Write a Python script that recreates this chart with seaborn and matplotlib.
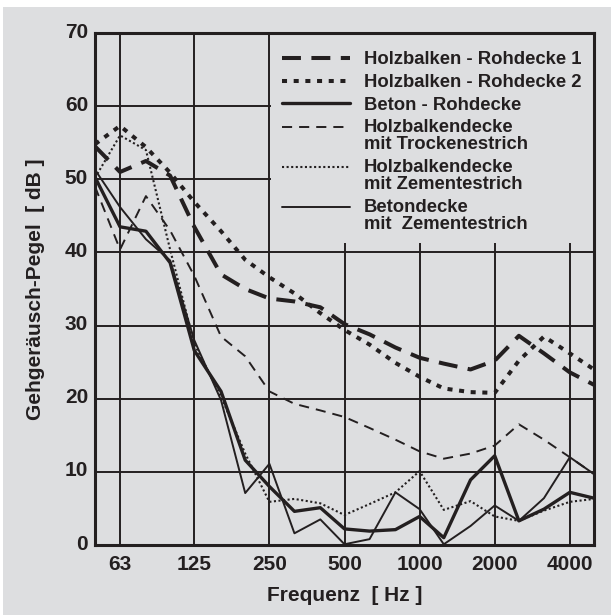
import numpy as np
import matplotlib
matplotlib.use("Agg")
import matplotlib.pyplot as plt
import seaborn as sns
from matplotlib.patches import Rectangle
from matplotlib.transforms import ScaledTranslation
from matplotlib.legend_handler import HandlerLine2D

# ---------------- data ----------------
freqs = [50, 63, 80, 100, 125, 160, 200, 250, 315, 400, 500, 630, 800,
         1000, 1250, 1600, 2000, 2500, 3150, 4000, 5000]

holzbalken_roh_1 = [54.5, 51.0, 52.5, 50.5, 43.5, 37.0, 35.0, 33.7, 33.3, 32.5,
                    30.2, 28.8, 27.0, 25.6, 24.8, 24.0, 25.2, 28.6, 26.2, 23.6, 21.9]
holzbalken_roh_2 = [54.8, 57.3, 54.4, 50.9, 46.9, 42.9, 39.0, 36.6, 34.4, 31.7,
                    29.4, 27.4, 24.9, 23.0, 21.4, 20.9, 20.8, 25.2, 28.5, 26.2, 24.0]
beton_roh = [50.3, 43.5, 42.9, 38.6, 26.6, 21.0, 11.6, 8.0, 4.6, 5.1,
             2.2, 1.9, 2.1, 3.9, 1.0, 8.9, 12.2, 3.3, 4.9, 7.2, 6.4]
holz_trocken = [49.0, 40.4, 47.7, 43.0, 36.8, 28.5, 25.8, 21.0, 19.3, 18.4,
                17.5, 16.0, 14.4, 12.8, 11.8, 12.5, 13.6, 16.5, 14.4, 12.0, 9.7]
holz_zement = [50.2, 56.0, 54.0, 40.4, 27.5, 20.3, 12.5, 5.9, 6.3, 5.7,
               4.1, 5.6, 7.2, 10.1, 4.8, 6.0, 3.9, 3.3, 4.7, 5.9, 6.3]
beton_zement = [51.3, 46.2, 41.8, 38.9, 28.0, 19.8, 7.1, 11.1, 1.6, 3.5,
                0.1, 0.8, 7.2, 4.9, 0.1, 2.6, 5.4, 3.3, 6.4, 12.0, 9.7]

labels = ["Holzbalken - Rohdecke 1",
          "Holzbalken - Rohdecke 2",
          "Beton - Rohdecke",
          "Holzbalkendecke\nmit Trockenestrich",
          "Holzbalkendecke\nmit Zementestrich",
          "Betondecke\nmit  Zementestrich"]

xticks = [63, 125, 250, 500, 1000, 2000, 4000]
xticklabels = ["63", "125", "250", "500", "1000", "2000", "4000"]
yticks = [0, 10, 20, 30, 40, 50, 60, 70]

# ---------------- style ----------------
sns.set_style("white")
plt.rcParams["font.family"] = ["Liberation Sans", "DejaVu Sans"]
plt.rcParams["font.weight"] = "bold"

BG = "#dddee0"
INK = "#231f20"

fig = plt.figure(figsize=(6.11, 6.15), dpi=100, facecolor="white")
fig.patches.append(Rectangle((3 / 611, 0), 1, 608 / 615, transform=fig.transFigure,
                             facecolor=BG, edgecolor="none", zorder=-10))
ax = fig.add_axes([95 / 611, 1 - 545 / 615, 499 / 611, 512 / 615])
ax.set_facecolor(BG)

series = [
    (holzbalken_roh_1, 2.9, (0, (4.7, 2.6))),
    (holzbalken_roh_2, 2.9, (0, (1.25, 1.65))),
    (beton_roh, 2.4, "-"),
    (holz_trocken, 1.4, (0, (5.2, 3.6))),
    (holz_zement, 1.5, (0, (1.0, 1.2))),
    (beton_zement, 1.4, "-"),
]
for (vals, lw, ls), lab in zip(series, labels):
    sns.lineplot(x=freqs, y=vals, ax=ax, color=INK, linewidth=lw,
                 linestyle=ls, label=lab, estimator=None, legend=False)

ax.set_xscale("log")
ax.set_xlim(50, 5000)
ax.set_ylim(0, 70)
ax.set_xticks(xticks)
ax.set_xticklabels(xticklabels)
ax.xaxis.set_minor_locator(matplotlib.ticker.NullLocator())
ax.set_yticks(yticks)
ax.tick_params(length=0, labelsize=15, labelcolor=INK)
ax.tick_params(axis="x", pad=7)
ax.tick_params(axis="y", pad=5)
for t in ax.get_yticklabels():
    t.set_transform(t.get_transform() + ScaledTranslation(0, 0.03, fig.dpi_scale_trans))

ax.set_axisbelow(True)
ax.grid(True, which="major", color=INK, linewidth=1.4)
for s in ax.spines.values():
    s.set_color(INK)
    s.set_linewidth(2.2)
    s.set_visible(True)

# mask behind the legend (hides grid)
ax.add_patch(Rectangle((0.3527, 0.590), 1 - 0.3527, 0.41, transform=ax.transAxes,
                       facecolor=BG, edgecolor="none", zorder=1))

ax.set_xlabel("Frequenz  [ Hz ]", fontsize=15, fontweight="bold", color=INK, labelpad=9)
ax.set_ylabel("Gehgeräusch-Pegel  [ dB ]", fontsize=15, fontweight="bold", color=INK,
              labelpad=14)


class FirstLineHandler(HandlerLine2D):
    def __init__(self, shift=0.0, **kw):
        super().__init__(**kw)
        self._shift = shift

    def create_artists(self, legend, orig_handle, xdescent, ydescent, width,
                       height, fontsize, trans):
        arts = super().create_artists(legend, orig_handle, xdescent, ydescent,
                                      width, height, fontsize, trans)
        for a in arts:
            a.set_ydata(np.asarray(a.get_ydata(), dtype=float) + self._shift)
        return arts


handles, labs = ax.get_legend_handles_labels()
hmap = {h: FirstLineHandler(shift=6.5) for h, l in zip(handles, labs) if "\n" in l}
leg = ax.legend(handles, labs, loc="upper left", bbox_to_anchor=(0.374, 0.964),
                borderpad=0, borderaxespad=0, frameon=False,
                handlelength=3.7, handletextpad=0.76, labelspacing=0.3,
                prop={"size": 13.3, "weight": "bold"}, labelcolor=INK,
                handler_map=hmap)
for t in leg.get_texts():
    t.set_linespacing(1.03)

fig.savefig("out.png", dpi=100, facecolor=fig.get_facecolor())
